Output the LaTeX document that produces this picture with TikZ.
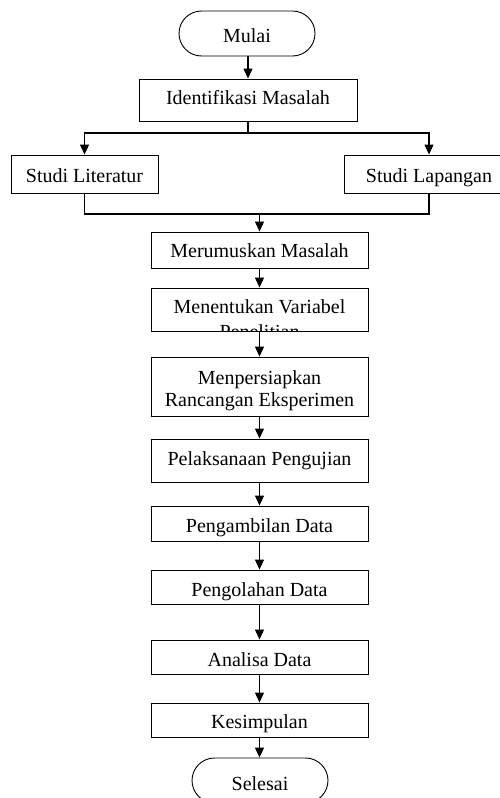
\documentclass[tikz,border=0pt]{standalone}
\usepackage{fontspec}
\setmainfont{Liberation Serif}
\usetikzlibrary{arrows.meta}
\begin{document}
\begin{tikzpicture}[x=1pt,y=-1pt,
  txt/.style={font=\fontsize{20}{22}\selectfont},
  box/.style={draw, line width=0.9pt, minimum width=217pt, inner sep=0pt,
    text height=16pt, text depth=0pt, txt},
  term/.style={draw, line width=0.9pt, rounded corners=22.5pt, minimum width=136pt,
    minimum height=45pt, inner sep=0pt, text height=18pt, text depth=0pt, txt},
  lbl/.style={txt, inner sep=0pt, anchor=base},
  arr/.style={line width=1.1pt, -{Triangle[length=10pt,width=9pt]}},
  ln/.style={line width=1.1pt}]
\useasboundingbox (0,0) rectangle (500,798);

% nodes
\node[term] (mulai) at (247,33.5) {Mulai};
\node[box, minimum width=218pt, minimum height=42pt, text height=8pt] (idm) at (248,100) {Identifikasi Masalah};
\node[box, minimum width=147pt, minimum height=38pt] (sl) at (84.5,174) {Studi Literatur};
\node[box, minimum width=170pt, minimum height=38pt] (sp) at (429,174) {Studi Lapangan};
\node[box, minimum height=36pt, text height=14pt] (mer) at (259.5,250) {Merumuskan Masalah};
\node[box, minimum height=43pt] (mv) at (259.5,309.5) {};
\node[box, minimum height=59pt] (mp) at (259.5,386.5) {};
\node[box, minimum height=43pt, text height=9pt] (pel) at (259.5,460.5) {Pelaksanaan Pengujian};
\node[box, minimum height=35pt, text height=17pt] (pamb) at (259.5,523.5) {Pengambilan Data};
\node[box, minimum height=34pt, text height=18pt] (polh) at (259.5,587) {Pengolahan Data};
\node[box, minimum height=34pt, text height=18pt] (ana) at (259.5,657) {Analisa Data};
\node[box, minimum height=34pt] (kes) at (259.5,720) {Kesimpulan};
\node[term, text height=20pt] (sel) at (260,780.5) {Selesai};

% text of two-line boxes
\begin{scope}
  \clip (mv.south west) rectangle (mv.north east);
  \node[lbl] (mvt1) at (259.5,313) {Menentukan Variabel};
  \node[lbl] (mvt2) at (259.5,338) {Penelitian};
\end{scope}
\node[lbl] (mpt1) at (259.5,384.5) {Menpersiapkan};
\node[lbl] (mpt2) at (259.5,406) {Rancangan Eksperimen};

% connectors
\draw[arr] (mulai.south -| idm.north) -- (idm.north);
\coordinate (split) at (248,133);
\draw[ln] (idm.south) -- (split);
\draw[arr] (split) -| (sl.north);
\draw[arr] (split) -| (sp.north);
\coordinate (join) at (259.5,214);
\draw[ln] (sl.south) |- (sp.south |- join) -- (sp.south);
\draw[arr] (join) -- (mer.north);
\draw[arr] (mer.south) -- (mv.north);
\draw[arr] (mv.south) -- (mp.north);
\draw[arr] (mp.south) -- (pel.north);
\draw[arr] (pel.south) -- (pamb.north);
\draw[arr] (pamb.south) -- (polh.north);
\draw[arr] (polh.south) -- (ana.north);
\draw[arr] (ana.south) -- (kes.north);
\draw[arr] (kes.south) -- (sel.north -| kes.south);
\end{tikzpicture}
\end{document}
